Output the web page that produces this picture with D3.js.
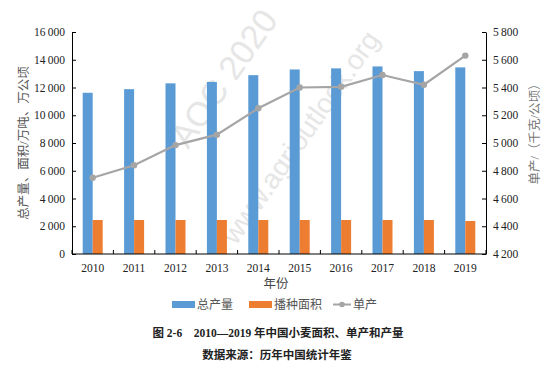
<!DOCTYPE html>
<html><head><meta charset="utf-8">
<script src="https://cdn.jsdelivr.net/npm/d3@7"></script>
<style>
body{margin:0;background:#fff;}
svg text{font-family:"Liberation Serif","DejaVu Serif",serif;}
svg text.cjk{font-family:"Liberation Serif","Noto Sans CJK SC",sans-serif;}
</style></head>
<body><div id="chart"></div>
<script>
// 2010-2019 wheat: output, sown area, yield
const years = ['2010','2011','2012','2013','2014','2015','2016','2017','2018','2019'];
const output = [11620, 11880, 12300, 12400, 12890, 13300, 13380, 13520, 13180, 13450];
const area = [2450, 2450, 2450, 2450, 2450, 2450, 2450, 2450, 2450, 2380];
const yieldPerHa = [4750, 4840, 4985, 5060, 5250, 5400, 5405, 5490, 5420, 5630];
const leftTicks = [0,2000,4000,6000,8000,10000,12000,14000,16000];
const rightTicks = [4200,4400,4600,4800,5000,5200,5400,5600,5800];

const W = 557, H = 377;
const m = {l:72, r:71, t:32, b:123};
const w = W - m.l - m.r, h = H - m.t - m.b;
const fmt = v => d3.format(',')(v).replace(/,/g,'\u2009');

const svg = d3.select('#chart').append('svg').attr('width',W).attr('height',H);

// watermark
const wm = svg.append('g').attr('fill','#e6e6e6');
wm.append('text').attr('transform','translate(188,150) rotate(-55)')
  .attr('font-size',34).style('font-family','"Liberation Sans",sans-serif').text('AOC 2020');
wm.append('text').attr('transform','translate(236,246) rotate(-55)')
  .attr('font-size',28).style('font-family','"Liberation Sans",sans-serif').text('www.agrioutlook.org');

const g = svg.append('g').attr('transform',`translate(${m.l},${m.t})`);

const x = d3.scaleBand().domain(years).range([0,w]);
const yL = d3.scaleLinear().domain([0,16000]).range([h,0]);
const yR = d3.scaleLinear().domain([4200,5800]).range([h,0]);
const bw = 10;

// bars
g.selectAll('.b1').data(years).join('rect')
  .attr('x', d => x(d) + x.bandwidth()/2 - bw)
  .attr('y', (d,i) => yL(output[i]))
  .attr('width', bw).attr('height', (d,i) => h - yL(output[i]))
  .attr('fill','#5b9bd5');
g.selectAll('.b2').data(years).join('rect')
  .attr('x', d => x(d) + x.bandwidth()/2)
  .attr('y', (d,i) => yL(area[i]))
  .attr('width', bw).attr('height', (d,i) => h - yL(area[i]))
  .attr('fill','#ed7d31');

// line
const line = d3.line().x((d,i) => x(years[i]) + x.bandwidth()/2).y(d => yR(d));
g.append('path').datum(yieldPerHa).attr('d',line)
  .attr('fill','none').attr('stroke','#a5a5a5').attr('stroke-width',2.2);
g.selectAll('.pt').data(yieldPerHa).join('circle')
  .attr('cx',(d,i) => x(years[i]) + x.bandwidth()/2).attr('cy',d => yR(d))
  .attr('r',3.2).attr('fill','#a5a5a5');

// axes
const axL = g.append('g').call(d3.axisLeft(yL).tickValues(leftTicks).tickSizeInner(-4).tickSizeOuter(0).tickPadding(7).tickFormat(fmt));
const axR = g.append('g').attr('transform',`translate(${w},0)`)
  .call(d3.axisRight(yR).tickValues(rightTicks).tickSizeInner(-4).tickSizeOuter(0).tickPadding(7).tickFormat(fmt));
const xTicks = d3.range(years.length + 1).map(i => i * x.step());
const axB = g.append('g').attr('transform',`translate(0,${h})`);
axB.append('line').attr('x1',0).attr('x2',w).attr('stroke','#000');
axB.selectAll('.tk').data(xTicks).join('line')
  .attr('x1',d=>d).attr('x2',d=>d).attr('y1',0).attr('y2',-4).attr('stroke','#000');
axB.selectAll('.lb').data(years).join('text')
  .attr('x', d => x(d) + x.bandwidth()/2).attr('y',18).attr('text-anchor','middle')
  .attr('font-size',11.5).attr('fill','#222').text(d=>d);
[axL, axR].forEach(a => {
  a.select('.domain').attr('stroke','#000');
  a.selectAll('.tick line').attr('stroke','#000');
  a.selectAll('.tick text').attr('font-size',11.5).attr('fill','#222');
});

// axis titles
svg.append('text').attr('class','cjk').attr('transform','translate(28,143) rotate(-90)')
  .attr('text-anchor','middle').attr('font-size',12.5).attr('fill','#555')
  .text('总产量、面积/万吨、万公顷');
svg.append('text').attr('class','cjk').attr('transform','translate(539,131) rotate(-90)')
  .attr('text-anchor','middle').attr('font-size',12.5).attr('fill','#777')
  .text('单产/（千克/公顷）');
svg.append('text').attr('class','cjk').attr('x',276).attr('y',288).attr('text-anchor','middle')
  .attr('font-size',12.5).attr('fill','#444').text('年份');

// legend
const lg = svg.append('g');
lg.append('rect').attr('x',172).attr('y',301).attr('width',23).attr('height',7).attr('fill','#5b9bd5');
lg.append('text').attr('class','cjk').attr('x',197).attr('y',309).attr('font-size',12).attr('fill','#555').text('总产量');
lg.append('rect').attr('x',249).attr('y',301).attr('width',23).attr('height',7).attr('fill','#ed7d31');
lg.append('text').attr('class','cjk').attr('x',274).attr('y',309).attr('font-size',12).attr('fill','#555').text('播种面积');
lg.append('line').attr('x1',333).attr('x2',351).attr('y1',304.5).attr('y2',304.5).attr('stroke','#a5a5a5').attr('stroke-width',2);
lg.append('circle').attr('cx',342).attr('cy',304.5).attr('r',2.8).attr('fill','#a5a5a5');
lg.append('text').attr('class','cjk').attr('x',353).attr('y',309).attr('font-size',12).attr('fill','#555').text('单产');

// caption
svg.append('text').attr('class','cjk').attr('x',278).attr('y',337).attr('text-anchor','middle')
  .attr('font-size',11.5).attr('font-weight','bold').attr('fill','#222')
  .text('图 2-6　2010—2019 年中国小麦面积、单产和产量');
svg.append('text').attr('class','cjk').attr('x',277).attr('y',359).attr('text-anchor','middle')
  .attr('font-size',11.5).attr('font-weight','bold').attr('fill','#222')
  .text('数据来源：历年中国统计年鉴');
</script></body></html>
